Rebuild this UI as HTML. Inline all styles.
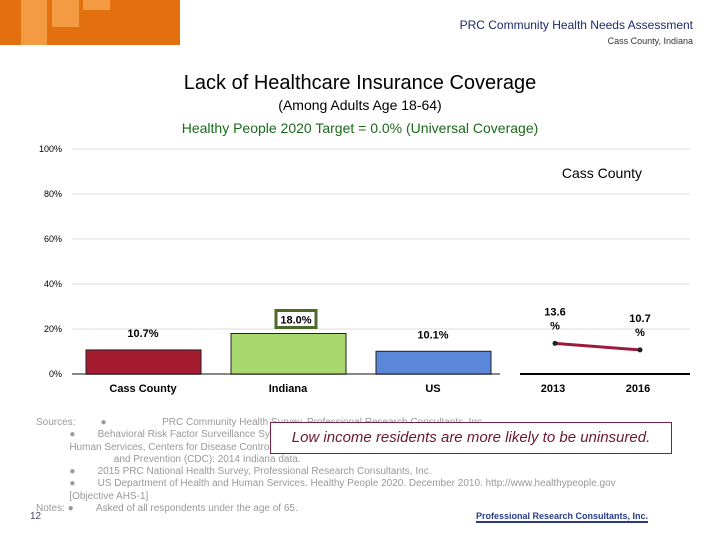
<!DOCTYPE html>
<html><head><meta charset="utf-8"><style>
body{margin:0;width:720px;height:540px;background:#fff;position:relative;overflow:hidden;font-family:"Liberation Sans",sans-serif}
.a{position:absolute;white-space:nowrap}
.src{font-size:10px;color:#999;}
</style></head><body>
<div class="a" style="left:0;top:0;width:180px;height:45px;background:#e2700f"></div>
<div class="a" style="left:21px;top:0;width:26px;height:45px;background:#f29b43"></div>
<div class="a" style="left:52px;top:0;width:27px;height:27px;background:#f29b43"></div>
<div class="a" style="left:83px;top:0;width:27px;height:10px;background:#f29b43"></div>
<div class="a" style="right:27px;top:18px;font-size:12px;color:#1f2a6b">PRC Community Health Needs Assessment</div>
<div class="a" style="right:27px;top:36px;font-size:9px;color:#333">Cass County, Indiana</div>
<div class="a" style="left:0;width:720px;text-align:center;top:72px;font-size:20px;color:#000">Lack of Healthcare Insurance Coverage</div>
<div class="a" style="left:0;width:720px;text-align:center;top:97px;font-size:14px;color:#000">(Among Adults Age 18-64)</div>
<div class="a" style="left:0;width:720px;text-align:center;top:120px;font-size:14px;color:#1a6a1a">Healthy People 2020 Target = 0.0% (Universal Coverage)</div>
<svg class="a" style="left:0;top:0" width="720" height="540" id="ch"></svg>
<div class="a src" style="left:36px;top:417px;line-height:12.3px">Sources: &nbsp;&nbsp;&nbsp;&nbsp;&nbsp;&nbsp;&nbsp;&nbsp;●&nbsp;&nbsp;&nbsp;&nbsp;&nbsp;&nbsp;&nbsp;&nbsp;&nbsp;&nbsp;&nbsp;&nbsp;&nbsp;&nbsp;&nbsp;&nbsp;&nbsp;&nbsp;&nbsp;&nbsp;PRC Community Health Survey, Professional Research Consultants, Inc.<br>
&nbsp;&nbsp;&nbsp;&nbsp;&nbsp;&nbsp;&nbsp;&nbsp;&nbsp;&nbsp;&nbsp;&nbsp;●&nbsp;&nbsp;&nbsp;&nbsp;&nbsp;&nbsp;&nbsp;&nbsp;Behavioral Risk Factor Surveillance System Survey Data, US Department of Health and<br>
&nbsp;&nbsp;&nbsp;&nbsp;&nbsp;&nbsp;&nbsp;&nbsp;&nbsp;&nbsp;&nbsp;&nbsp;Human Services, Centers for Disease Control<br>
&nbsp;&nbsp;&nbsp;&nbsp;&nbsp;&nbsp;&nbsp;&nbsp;&nbsp;&nbsp;&nbsp;&nbsp;&nbsp;&nbsp;&nbsp;&nbsp;&nbsp;&nbsp;&nbsp;&nbsp;&nbsp;&nbsp;&nbsp;&nbsp;&nbsp;&nbsp;&nbsp;&nbsp;and Prevention (CDC): 2014 Indiana data.<br>
&nbsp;&nbsp;&nbsp;&nbsp;&nbsp;&nbsp;&nbsp;&nbsp;&nbsp;&nbsp;&nbsp;&nbsp;●&nbsp;&nbsp;&nbsp;&nbsp;&nbsp;&nbsp;&nbsp;&nbsp;2015 PRC National Health Survey, Professional Research Consultants, Inc.<br>
&nbsp;&nbsp;&nbsp;&nbsp;&nbsp;&nbsp;&nbsp;&nbsp;&nbsp;&nbsp;&nbsp;&nbsp;●&nbsp;&nbsp;&nbsp;&nbsp;&nbsp;&nbsp;&nbsp;&nbsp;US Department of Health and Human Services. Healthy People 2020. December 2010. http://www.healthypeople.gov<br>
&nbsp;&nbsp;&nbsp;&nbsp;&nbsp;&nbsp;&nbsp;&nbsp;&nbsp;&nbsp;&nbsp;&nbsp;[Objective AHS-1]<br>
Notes: ●&nbsp;&nbsp;&nbsp;&nbsp;&nbsp;&nbsp;&nbsp;&nbsp;Asked of all respondents under the age of 65.</div>
<div class="a" style="left:30px;top:511px;font-size:10px;color:#446">12</div>
<div class="a" style="left:270px;top:422px;width:402px;height:32px;border:1px solid #7a2038;background:#fff;box-sizing:border-box;font-size:15px;font-style:italic;color:#6a1a30;text-align:center;line-height:30px">Low income residents are more likely to be uninsured.</div>
<div class="a" style="left:476px;top:511px;font-size:9px;font-weight:bold;color:#2a3a8a;border-bottom:2px solid #2a3a8a">Professional Research Consultants, Inc.</div>
<script>
const categories=["Cass County","Indiana","US"];
const values=[10.7,18.0,10.1];
const colors=["#a51c30","#a9d86e","#5b87d8"];
const years=["2013","2016"];
const trend=[13.6,10.7];
const ticks=[0,20,40,60,80,100];
const tickLabels=["0%","20%","40%","60%","80%","100%"];
const svg=document.getElementById('ch');const NS="http://www.w3.org/2000/svg";
const y=v=>374-v*2.25;
function mk(t,a,txt){const e=document.createElementNS(NS,t);for(const k in a)e.setAttribute(k,a[k]);if(txt!=null)e.textContent=txt;svg.appendChild(e);return e;}
ticks.forEach((t,i)=>{
 const g=mk('line',{x1:72,x2:690,y1:y(t),y2:y(t),stroke:t?'#ddd':'#888','stroke-width':t?1:2});
 
 const l=mk('text',{x:62,y:y(t)+3,'font-size':9,'text-anchor':'end',fill:'#000'},tickLabels[i]);
 
});
mk('rect',{x:500,y:370,width:20,height:6,fill:'#fff'});
mk('line',{x1:520,x2:690,y1:374,y2:374,stroke:'#000','stroke-width':2});
const bx=i=>86+i*145;
categories.forEach((c,i)=>{
 const b=mk('rect',{x:bx(i),y:y(values[i]),width:115,height:values[i]*2.25,fill:colors[i],stroke:'#222','stroke-width':1});
 
 const lx=bx(i)+(i==1?65:57);
 const t=mk('text',{x:lx,y:y(values[i])-10-(i==1?0:3),'font-size':11,'font-weight':'bold','text-anchor':'middle'},values[i].toFixed(1)+'%');
 
 if(i==1){const r=mk('rect',{x:lx-20,y:y(values[i])-23,width:40,height:17,fill:'none',stroke:'#4e6a2a','stroke-width':3});}
 const xl=mk('text',{x:bx(i)+57,y:392,'font-size':11,'font-weight':'bold','text-anchor':'middle'},c);
 
});
const lx=i=>555+i*85;
const ln=mk('polyline',{points:trend.map((v,i)=>lx(i)+','+y(v)).join(' '),fill:'none',stroke:'#9a1c3a','stroke-width':3});

trend.forEach((v,i)=>{
 const p=mk('circle',{cx:lx(i),cy:y(v),r:2.5,fill:'#222'});
 const t1=mk('text',{x:lx(i),y:y(v)-28,'font-size':11,'font-weight':'bold','text-anchor':'middle'},v.toFixed(1));
 mk('text',{x:lx(i),y:y(v)-14,'font-size':11,'font-weight':'bold','text-anchor':'middle'},'%');
 const xl=mk('text',{x:lx(i)-2,y:392,'font-size':11,'font-weight':'bold','text-anchor':'middle'},years[i]);
});
const lg=mk('text',{x:642,y:178,'font-size':14,'text-anchor':'end'},'Cass County');
</script>
</body></html>
